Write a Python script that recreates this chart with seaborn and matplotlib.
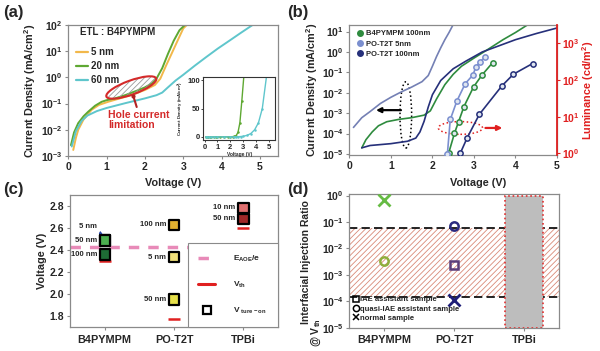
import numpy as np
import matplotlib
matplotlib.use("Agg")
import matplotlib.pyplot as plt
import seaborn as sns
from matplotlib.patches import Ellipse
from matplotlib.lines import Line2D

# ---------- (a) J-V, B4PYMPM ETL thickness ----------
a_v5 = [0.13, 0.2, 0.26, 0.4, 0.61, 0.8, 1.04, 1.3, 1.66, 2.0, 2.26, 2.4, 2.55, 2.7, 2.85, 3.0, 3.12]
a_j5 = [1.7e-3, 5e-3, 1e-2, 2.5e-2, 5.8e-2, 8.9e-2, 0.117, 0.151, 0.214, 0.331, 0.513, 0.89, 2.8, 8.3, 25, 74, 110]
a_v20 = [0.07, 0.15, 0.26, 0.4, 0.52, 0.7, 0.87, 1.0, 1.22, 1.5, 1.8, 2.0, 2.18, 2.3, 2.45, 2.6, 2.75, 2.9, 3.07]
a_j20 = [2.6e-3, 7.9e-3, 1.8e-2, 3.3e-2, 4.9e-2, 8.3e-2, 0.117, 0.135, 0.158, 0.214, 0.316, 0.417, 0.589, 0.89, 2.24, 7.9, 25, 63, 110]
a_v60 = [0.09, 0.2, 0.35, 0.5, 0.75, 1.0, 1.5, 2.0, 2.3, 2.45, 2.6, 2.8, 3.0, 3.3, 3.6, 3.9, 4.2, 4.5, 4.85]
a_j60 = [2.3e-3, 8.9e-3, 2.2e-2, 3.5e-2, 5.2e-2, 6.8e-2, 0.105, 0.158, 0.209, 0.263, 0.417, 0.76, 1.26, 2.8, 6.0, 12.6, 25, 50, 110]
a_labels = ["5 nm", "20 nm", "60 nm"]
a_colors = ["#f2b84b", "#5ea832", "#5fc6cc"]

# ---------- (b) J-V and L-V ----------
b_vg = [0.3, 0.4, 0.55, 0.7, 0.9, 1.2, 1.5, 1.8, 1.95, 2.1, 2.3, 2.5, 2.7, 3.0, 3.3, 3.7, 4.0, 4.3]
b_jg = [2e-5, 5e-5, 1.2e-4, 2.4e-4, 3.8e-4, 5e-4, 6e-4, 8e-4, 1.3e-3, 5e-3, 2.5e-2, 8e-2, 0.2, 0.5, 1.2, 4, 9, 22]
b_vl = [0.1, 0.3, 0.5, 0.75, 1.0, 1.25, 1.5, 1.75, 1.9, 2.0, 2.1, 2.2, 2.3, 2.4, 2.5]
b_jl = [2e-4, 6e-4, 1.2e-3, 3e-3, 6e-3, 1.1e-2, 1.9e-2, 3.5e-2, 7e-2, 0.2, 0.6, 1.6, 4, 9, 22]
b_vn = [0.3, 0.5, 1.0, 1.4, 1.6, 1.7, 1.8, 1.9, 2.0, 2.2, 2.5, 2.8, 3.2, 3.6, 4.0, 4.5, 5.0]
b_jn = [2e-5, 2.6e-5, 3.2e-5, 4.2e-5, 6e-5, 1.2e-4, 4e-4, 2e-3, 8e-3, 4e-2, 0.15, 0.35, 1.0, 2.0, 4.0, 8.0, 15]
lum_vg = [2.39, 2.53, 2.63, 2.76, 2.99, 3.19, 3.45]
lum_g = [1.0, 3.5, 7.3, 19, 65, 136, 300]
lum_vl = [2.36, 2.43, 2.59, 2.79, 2.97, 3.05, 3.15, 3.27]
lum_l = [0.95, 8.4, 27, 80, 136, 230, 320, 420]
lum_vn = [2.67, 2.84, 3.13, 3.67, 3.95, 4.41]
lum_n = [1.0, 2.7, 11.6, 69, 145, 283]
b_labels = ["B4PYMPM 100nm", "PO-T2T 5nm", "PO-T2T 100nm"]
b_colors = ["#2e8b3e", "#7b8fcf", "#26307a"]

# ---------- (c) voltages ----------
etl = ["B4PYMPM", "PO-T2T", "TPBi"]
ton_pos = [0, 0, 0, 1, 1, 1, 2, 2]
ton_thick = ["5 nm", "50 nm", "100 nm", "100 nm", "5 nm", "50 nm", "10 nm", "50 nm"]
ton_volt = [2.486, 2.486, 2.358, 2.63, 2.336, 1.95, 2.785, 2.684]
ton_colors = ["#7ccf6a", "#4caf50", "#1e6b35", "#e0b030", "#f2e27a", "#e6e04a", "#e07070", "#a02828"]
vth = [2.30, 1.776, 2.60]
e_aoe = 2.43

# ---------- (d) injection ratio ----------
d_iae = [None, 2.3e-3, None]
d_quasi = [3.3e-3, 0.068, None]
d_normal = [0.68, 1.1e-4, None]
d_colors_iae = "#5b3d7a"
d_colors_quasi = ["#8fae3c", "#2a2a80"]
d_colors_normal = ["#66bb44", "#1e1e78"]
band = [1.4e-4, 5.8e-2]
tpbi_top = 1.0

sns.set_style("ticks")
plt.rcParams["font.family"] = ["Liberation Sans", "DejaVu Sans"]
plt.rcParams["font.weight"] = "bold"
plt.rcParams["axes.labelweight"] = "bold"
plt.rcParams["mathtext.fontset"] = "custom"
plt.rcParams["mathtext.rm"] = "Liberation Sans:bold"
plt.rcParams["mathtext.bf"] = "Liberation Sans:bold"
plt.rcParams["mathtext.default"] = "bf"
plt.rcParams["hatch.linewidth"] = 0.6

fig = plt.figure(figsize=(6, 3.51), dpi=100)
gray = "#8a8a8a"


def style(ax, size=7.5):
    for s in ax.spines.values():
        s.set_color(gray)
        s.set_linewidth(0.9)
    ax.tick_params(labelsize=size, length=2.5, width=0.8, color=gray, pad=1.5)
    ax.minorticks_off()


# (a)
ax = fig.add_axes([0.1138, 0.5556, 0.3495, 0.3732])
for v, j, c in zip([a_v5, a_v20, a_v60], [a_j5, a_j20, a_j60], a_colors):
    sns.lineplot(x=v, y=j, ax=ax, color=c, lw=1.4, estimator=None, sort=False)
ax.set_yscale("log")
ax.set_ylim(1e-3, 1e2)
ax.set_xlim(0, 5.47)
ax.set_xticks(range(6))
style(ax)
ax.minorticks_off()
ax.set_ylabel("Current Density (mA/cm$^2$)", fontsize=7.8, labelpad=2)
ax.set_xlabel("Voltage (V)", fontsize=7.8)
ax.xaxis.set_label_coords(0.5, -0.17)
ax.text(0.056, 0.95, "ETL : B4PYMPM", transform=ax.transAxes, fontsize=7, va="center")
hs = [Line2D([], [], color=c, lw=1.6) for c in a_colors]
ax.legend(hs, a_labels, loc="upper left", bbox_to_anchor=(0.02, 0.86), frameon=False,
          fontsize=7, handlelength=1.2, handletextpad=0.3, labelspacing=0.42, borderaxespad=0)
ell = Ellipse((1.313, 2.635), 0.53, 0.14, angle=20, transform=fig.dpi_scale_trans,
              facecolor="none", edgecolor="#9a9a9a", hatch="//////", lw=0)
fig.add_artist(ell)
fig.add_artist(Ellipse((1.313, 2.635), 0.53, 0.14, angle=20, transform=fig.dpi_scale_trans,
                       facecolor="none", edgecolor="#d42a2a", lw=1.5))
fig.add_artist(Line2D([1.333, 1.367], [2.55, 2.44], transform=fig.dpi_scale_trans,
                      color="#b22222", lw=1.5, marker="o", markersize=2, markevery=[0]))
fig.text(1.083 / 6, 2.41 / 3.51, "Hole current\nlimitation", color="#d42a2a",
         fontsize=7.5, va="top", linespacing=1.0)

# inset
axi = fig.add_axes([0.339, 0.600, 0.1195, 0.180])
for v, j, c in zip([a_v20, a_v60], [a_j20, a_j60], a_colors[1:]):
    sns.lineplot(x=v, y=j, ax=axi, color=c, lw=1.0, marker="o", markersize=1.8,
                 markeredgewidth=0, estimator=None, sort=False)
axi.set_xlim(-0.1, 5.5)
axi.set_ylim(-6, 105)
axi.set_xticks(range(6))
axi.set_yticks([0, 50, 100])
for s in axi.spines.values():
    s.set_color("#333")
    s.set_linewidth(0.8)
axi.tick_params(labelsize=5.5, length=1.5, width=0.6, pad=1)
axi.set_xlabel("Voltage (V)", fontsize=3.5, labelpad=0.5)
axi.set_ylabel("Current Density (mA/cm$^2$)", fontsize=3.2, labelpad=0.5)

# (b)
ax = fig.add_axes([0.5822, 0.5584, 0.3462, 0.3704])
for v, j, c in zip([b_vg, b_vl, b_vn], [b_jg, b_jl, b_jn], ["#2e8b3e", "#7480b4", "#26307a"]):
    sns.lineplot(x=v, y=j, ax=ax, color=c, lw=1.2, estimator=None, sort=False)
ax.set_yscale("log")
ax.set_ylim(8.9e-6, 21)
ax.set_xlim(0, 5)
ax.set_xticks(range(6))
ax.set_yticks([10.0 ** k for k in range(-5, 2)])
style(ax)
ax.set_ylabel("Current Density (mA/cm$^2$)", fontsize=7.8, labelpad=1)
ax.set_xlabel("Voltage (V)", fontsize=7.8)
ax.xaxis.set_label_coords(0.62, -0.175)
ax2 = ax.twinx()
for v, l, c in zip([lum_vg, lum_vl, lum_vn], [lum_g, lum_l, lum_n], b_colors):
    sns.lineplot(x=v, y=l, ax=ax2, color=c, lw=1.2, marker="o", markersize=3.8,
                 markerfacecolor="#dfe6f0", markeredgecolor=c, markeredgewidth=1.1,
                 estimator=None, sort=False)
ax2.set_yscale("log")
ax2.set_ylim(0.9, 3200)
ax2.minorticks_off()
ax2.set_yticks([1, 10, 100, 1000])
ax2.spines["right"].set_color("#e02020")
ax2.spines["right"].set_linewidth(1.3)
for k in ["left", "top", "bottom"]:
    ax2.spines[k].set_visible(False)
ax2.tick_params(axis="y", colors="#e02020", labelsize=7.5, length=2.5, pad=1)
ax2.set_ylabel("Luminance (cd/m$^2$)", color="#e02020", fontsize=7.8, labelpad=0.5)
hs = [Line2D([], [], marker="o", ls="", color=c, markersize=4) for c in b_colors]
ax.legend(hs, b_labels, loc="upper left", bbox_to_anchor=(0.02, 0.985), frameon=False,
          fontsize=5.5, handlelength=0.8, handletextpad=0.4, labelspacing=0.4, borderaxespad=0)
ax.add_patch(Ellipse((0.272, 0.308), 0.056, 0.51, transform=ax.transAxes, fill=False,
                     ls=":", lw=1.1, edgecolor="k"))
ax.annotate("", xy=(0.115, 0.345), xytext=(0.262, 0.345), xycoords="axes fraction",
            arrowprops=dict(arrowstyle="-|>", color="k", lw=1.6, mutation_scale=7))
ax.add_patch(Ellipse((0.535, 0.208), 0.213, 0.098, transform=ax.transAxes, fill=False,
                     ls=":", lw=1.1, edgecolor="#e02020"))
ax.annotate("", xy=(0.75, 0.208), xytext=(0.642, 0.208), xycoords="axes fraction",
            arrowprops=dict(arrowstyle="-|>", color="#e02020", lw=1.6, mutation_scale=7))

# (c)
ax = fig.add_axes([0.1167, 0.0684, 0.3467, 0.376])
ax.axhline(e_aoe, color="#e88ab8", lw=2.5, ls=(0, (3, 2.6)), zorder=1)
sns.scatterplot(x=list(range(3)), y=vth, ax=ax, marker="_", s=70, linewidth=1.8,
                color="#e02020", zorder=2)
ax.scatter(ton_pos, ton_volt, c=ton_colors, marker="s", s=55, edgecolors="k",
           linewidths=1.6, zorder=3)
ax.set_xlim(-0.5, 2.5)
ax.set_ylim(1.7, 2.9)
ax.set_xticks(range(3))
ax.set_xticklabels(etl)
ax.set_yticks([1.8, 2.0, 2.2, 2.4, 2.6, 2.8])
style(ax)
ax.tick_params(axis="x", labelsize=7.8, pad=3)
ax.set_ylabel("Voltage (V)", fontsize=7.8, labelpad=2)
for p, t, v in zip(ton_pos[1:], ton_thick[1:], ton_volt[1:]):
    ax.text(p - 0.11, v, t, fontsize=5.5, ha="right", va="center")
ax.annotate(ton_thick[0], xy=(-0.03, 2.545), xytext=(-0.11, 2.61), fontsize=5.5,
            ha="right", va="center",
            arrowprops=dict(arrowstyle="-|>", color="#2040a0", lw=0.6, mutation_scale=4))
hs = [Line2D([], [], color="#e88ab8", lw=2.5, ls=(0, (3, 2.6))),
      Line2D([], [], color="#e02020", lw=2.2),
      Line2D([], [], marker="s", ls="", mfc="none", mec="k", mew=1.6, markersize=6)]
leg = ax.legend(hs, ["E$_{AOE}$/e", "V$_{th}$", "V $_{ture-on}$"], loc="lower right",
                bbox_to_anchor=(1, 0), borderaxespad=0, fontsize=6, handlelength=2.0,
                handletextpad=2.2, labelspacing=1.9, borderpad=1.3, fancybox=False,
                framealpha=1, edgecolor=gray)
leg.get_frame().set_linewidth(0.8)

# (d)
ax = fig.add_axes([0.5817, 0.0664, 0.35, 0.381])
ax.fill_between([-0.5, 2.5], band[0], band[1], facecolor="none", edgecolor="#d98a78",
                hatch="//////", lw=0, zorder=1)
for b in band:
    ax.axhline(b, color="k", lw=1.2, ls=(0, (5, 2.5)), zorder=2)
ax.bar([2], [tpbi_top - 1e-5], bottom=1e-5, width=0.54, color="#bdbdbd",
       edgecolor="#e03030", ls=":", lw=1.2, zorder=3)
for i in range(2):
    ax.plot(i, d_normal[i], marker="x", color=d_colors_normal[i], markersize=8, mew=2, zorder=4)
    ax.plot(i, d_quasi[i], marker="o", mfc="none", mec=d_colors_quasi[i], markersize=6,
            mew=1.8, zorder=4)
ax.plot(1, d_iae[1], marker="s", mfc="none", mec=d_colors_iae, markersize=5.5, mew=1.8, zorder=4)
ax.set_yscale("log")
ax.set_ylim(1e-5, 1.15)
ax.set_xlim(-0.5, 2.5)
ax.set_xticks(range(3))
ax.set_xticklabels(etl)
ax.set_yticks([10.0 ** k for k in range(-5, 1)])
style(ax)
ax.tick_params(axis="x", labelsize=7.8, pad=3)
hs = [Line2D([], [], marker=m, ls="", mfc="none", mec="k", color="k", markersize=4.5, mew=1.1)
      for m in ["s", "o", "x"]]
ax.legend(hs, ["IAE assistant sample", "quasi-IAE assistant sample", "normal sample"],
          loc="lower left", bbox_to_anchor=(0.01, 0.02), frameon=False, fontsize=5.5,
          handlelength=0.5, handletextpad=0.3, labelspacing=0.25, borderaxespad=0)
fig.text(306 / 600, 1 - 262 / 351, "Interfacial Injection Ratio", rotation=90,
         fontsize=7.5, ha="center", va="center")
fig.text(316 / 600, 1 - 333 / 351, "@ V$_{th}$", rotation=90, fontsize=7.5,
         ha="center", va="center")

for lab, x, y in [("(a)", 0.005, 0.965), ("(b)", 0.478, 0.965),
                  ("(c)", 0.005, 0.46), ("(d)", 0.478, 0.46)]:
    fig.text(x, y, lab, fontsize=12, va="center")

fig.savefig("out.png", dpi=100)
